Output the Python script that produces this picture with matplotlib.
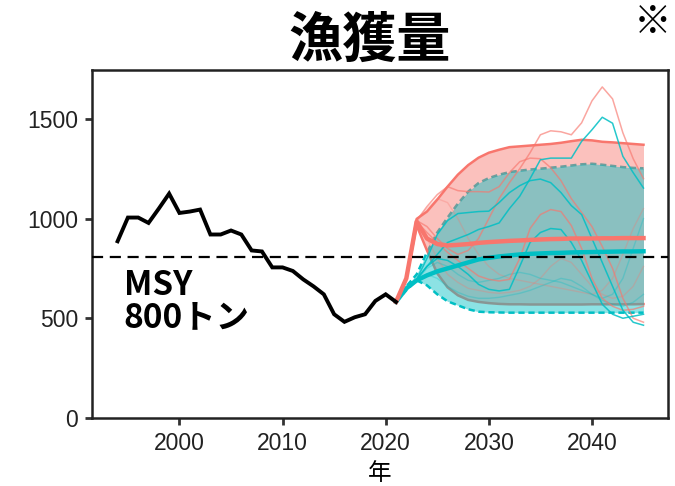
import matplotlib
matplotlib.use("Agg")
import matplotlib.pyplot as plt
from matplotlib import font_manager

# 実績値
hist_years = list(range(1994, 2022))
hist_catch = [886, 1005, 1005, 978, 1050, 1125, 1028, 1035, 1045, 920,
              920, 940, 920, 840, 835, 755, 755, 737, 695, 660,
              620, 520, 482, 505, 520, 587, 620, 582]

MSY = 805

proj_years = list(range(2021, 2046))

# 将来予測 (赤)
red_mean = [582, 700, 985, 900, 872, 865, 868, 872, 878, 882, 885, 888, 890,
            893, 895, 897, 898, 900, 900, 900, 901, 901, 902, 902, 902]
red_upper = [582, 702, 998, 1035, 1095, 1160, 1220, 1268, 1305, 1330, 1345,
             1358, 1362, 1366, 1370, 1374, 1380, 1388, 1395, 1392, 1385,
             1382, 1378, 1374, 1370]
red_lower = [582, 698, 965, 840, 725, 655, 615, 592, 582, 576, 572, 570, 570,
             569, 569, 569, 569, 569, 569, 570, 570, 570, 570, 570, 571]

# 将来予測 (青)
cyan_mean = [582, 650, 690, 715, 735, 750, 765, 780, 795, 803, 810, 815, 820,
             823, 825, 827, 828, 830, 831, 832, 833, 834, 835, 835, 836]
cyan_upper = [582, 660, 720, 830, 930, 1005, 1075, 1135, 1178, 1203, 1220,
              1233, 1240, 1246, 1250, 1255, 1260, 1266, 1272, 1275, 1270,
              1264, 1258, 1254, 1252]
cyan_lower = [582, 640, 690, 665, 620, 585, 565, 545, 533, 530, 529, 528, 528,
              528, 528, 528, 528, 528, 528, 528, 528, 528, 528, 528, 528]

# 個別シミュレーション
red_runs = [
    [582, 700, 990, 960, 900, 850, 820, 840, 900, 1000, 1100, 1180, 1250,
     1330, 1420, 1440, 1435, 1420, 1480, 1590, 1660, 1600, 1430, 1300, 1200],
    [582, 700, 990, 1060, 1120, 1160, 1140, 1135, 1135, 1133, 1160, 1230, 1285,
     1303, 1300, 1255, 1190, 1100, 1030, 960, 860, 750, 600, 500, 480],
    [582, 700, 985, 930, 880, 830, 790, 750, 712, 695, 687, 695, 800,
     950, 1020, 1045, 1035, 965, 850, 700, 600, 560, 540, 545, 560],
]
red_faint = [
    [582, 700, 990, 1050, 1100, 1080, 1000, 900, 820, 760, 720, 700, 690,
     680, 670, 660, 650, 640, 630, 620, 640, 700, 820, 950, 1050],
    [582, 700, 975, 900, 800, 720, 680, 650, 640, 630, 625, 630, 640,
     660, 700, 760, 800, 780, 720, 660, 620, 600, 610, 660, 760],
]
cyan_runs = [
    [582, 650, 695, 760, 820, 880, 900, 920, 945, 960, 978, 1050, 1112,
     1200, 1295, 1303, 1303, 1303, 1387, 1445, 1508, 1478, 1312, 1230, 1153],
    [582, 655, 695, 800, 920, 990, 1025, 1030, 1035, 1037, 1080, 1130, 1165,
     1190, 1198, 1180, 1130, 1065, 1020, 900, 780, 660, 540, 480, 465],
    [582, 645, 695, 760, 800, 790, 760, 720, 670, 645, 637, 645, 760,
     880, 930, 950, 945, 880, 790, 680, 570, 520, 500, 510, 520],
]
cyan_faint = [
    [582, 650, 690, 750, 780, 760, 720, 690, 680, 690, 700, 720, 730,
     720, 700, 690, 680, 660, 640, 620, 600, 620, 700, 850, 1000],
    [582, 650, 688, 720, 700, 660, 630, 610, 600, 600, 605, 615, 625,
     640, 660, 680, 700, 690, 660, 620, 590, 570, 560, 580, 620],
]

RED = "#F8766D"
CYAN = "#00BFC4"

# Arial 風の数字
tick_font = None
for f in font_manager.fontManager.ttflist:
    if f.fname.endswith("LiberationSans-Regular.ttf"):
        tick_font = font_manager.FontProperties(fname=f.fname, size=16.5)
        break
if tick_font is None:
    tick_font = font_manager.FontProperties(family="DejaVu Sans", size=15)

fig = plt.figure(figsize=(6.75, 4.86), dpi=100)
ax = fig.add_axes([0.136, 0.140, 0.854, 0.716])

# 帯
ax.plot(proj_years, cyan_upper, color=CYAN, lw=1.8, ls=(0, (2.5, 1.5)), zorder=1)
ax.fill_between(proj_years, red_lower, red_upper, color=RED, alpha=0.45,
                lw=0, zorder=2)
ax.plot(proj_years, red_upper, color=RED, lw=1.8, zorder=2)
ax.plot(proj_years, red_lower, color=RED, lw=1.8, zorder=2)
ax.fill_between(proj_years, cyan_lower, cyan_upper, color=CYAN, alpha=0.45,
                lw=0, zorder=3)
ax.plot(proj_years, cyan_lower, color=CYAN, lw=1.8, ls=(0, (2.5, 1.5)), zorder=3)

# 個別の軌跡
for run in red_faint:
    ax.plot(proj_years, run, color=RED, lw=1.0, alpha=0.3, zorder=4)
for run in cyan_faint:
    ax.plot(proj_years, run, color=CYAN, lw=1.0, alpha=0.3, zorder=4)
for run in red_runs:
    ax.plot(proj_years, run, color=RED, lw=1.1, alpha=0.65, zorder=5)
for run in cyan_runs:
    ax.plot(proj_years, run, color=CYAN, lw=1.1, alpha=0.85, zorder=5)

# 平均
ax.plot(proj_years, cyan_mean, color=CYAN, lw=3.2, zorder=6)
ax.plot(proj_years, red_mean, color=RED, lw=3.2, zorder=6)

# 実績
ax.plot(hist_years, hist_catch, color="black", lw=2.8, zorder=7,
        solid_joinstyle="miter")

ax.axhline(MSY, color="black", lw=1.6, ls=(0, (5, 3)), zorder=8)

ax.text(1994.6, 745, "MSY\n800トン", fontsize=24, fontweight="bold",
        family=['Noto Sans CJK JP'], va="top", ha="left", linespacing=0.95)

ax.set_xlim(1991.5, 2047.4)
ax.set_ylim(0, 1745)
ax.set_xticks([2000, 2010, 2020, 2030, 2040])
ax.set_yticks([0, 500, 1000, 1500])
ax.tick_params(direction="out", length=5, width=2, color="#333333",
               labelcolor="#222222", pad=5)
for lab in ax.get_xticklabels() + ax.get_yticklabels():
    lab.set_fontproperties(tick_font)
for sp in ax.spines.values():
    sp.set_linewidth(1.8)
    sp.set_color("#222222")

ax.set_xlabel("年", fontsize=17, family=['Noto Sans CJK JP'], labelpad=5)

fig.text(0.548, 0.915, "漁獲量", fontsize=39, fontweight="bold",
         family=['Noto Sans CJK JP'], ha="center", va="center")
fig.text(0.967, 0.955, "※", fontsize=27, fontweight="bold",
         family=['Noto Sans CJK JP'], ha="center", va="center")

fig.savefig("out.png", dpi=100)
